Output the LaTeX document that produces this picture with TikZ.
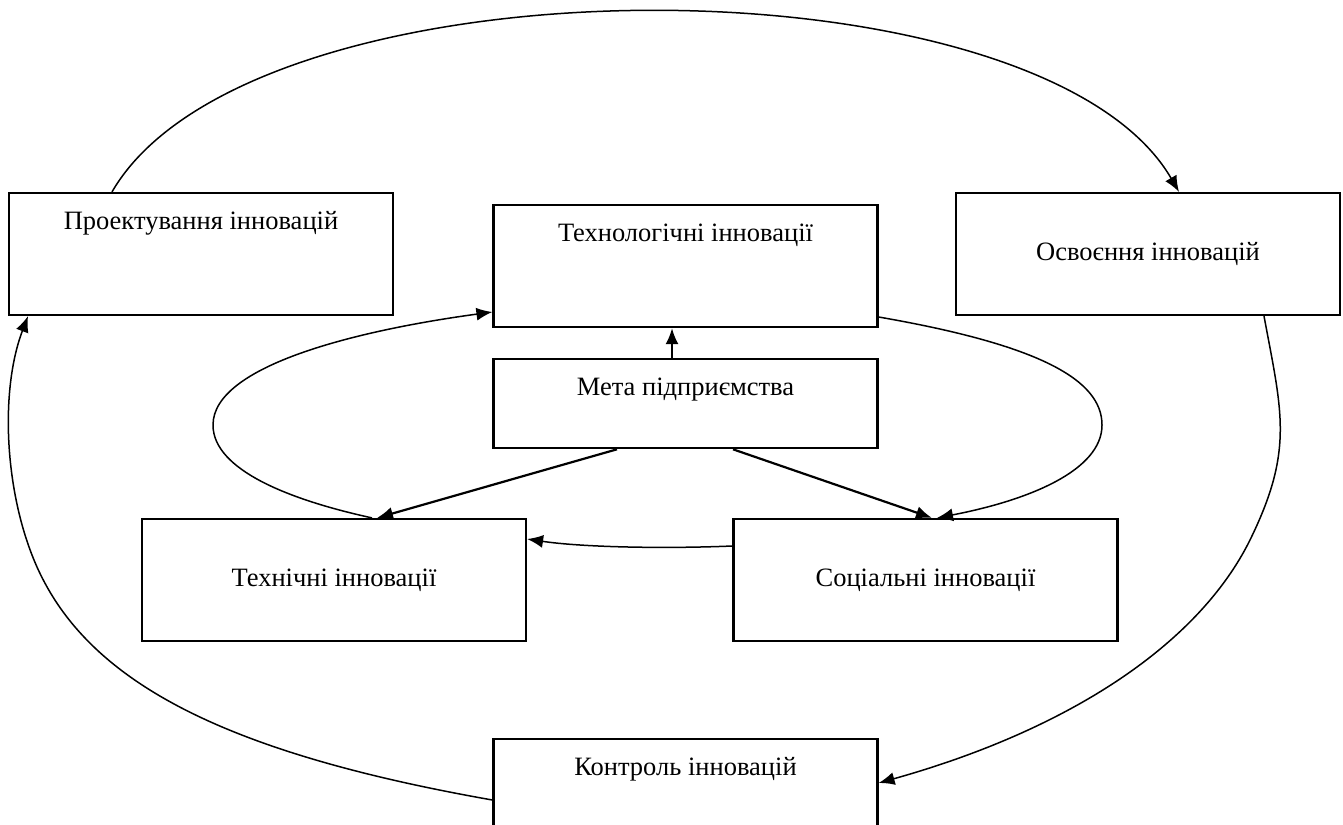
\documentclass[tikz,border=0pt]{standalone}
\usepackage{fontspec}
\setmainfont{Liberation Serif}
\usetikzlibrary{positioning,arrows.meta}

\begin{document}
\begin{tikzpicture}[x=0.5pt, y=-0.5pt,
	font=\fontsize{13.25}{16}\selectfont,
	blok/.style={draw, line width=1.1pt, inner sep=0pt, minimum width=192pt},
	verh/.style={text height=18pt, text depth=43pt},
	midden/.style={text height=33.5pt, text depth=27.5pt},
	pijl/.style={-{Latex[length=8pt,width=6.5pt]}, line width=0.75pt},
	dikpijl/.style={-{Latex[length=8pt,width=6.5pt]}, line width=1.1pt}]
	\useasboundingbox (0,0) rectangle (1343,824);
	\node [blok, verh] (proekt) at (201,254) {Проектування інновацій};
	\node [blok, verh] (tekhnol) at (685.5,266) {Технологічні інновації};
	\node [blok, midden] (osvo) at (1148,254) {Освоєння інновацій};
	\node [blok, verh, text depth=26.5pt, below=15pt of tekhnol] (meta) {Мета підприємства};
	\node [blok, midden] (tekhn) at (334,580) {Технічні інновації};
	\node [blok, midden] (social) at (925.5,580) {Соціальні інновації};
	\node [blok, verh] (kontrol) at (685.5,800) {Контроль інновацій};
	% buitenste kring
	\draw [pijl] ([xshift=-44.5pt]proekt.north) .. controls (251,-48) and (1040,-48) .. ([xshift=15.5pt]osvo.north);
	\draw [pijl] ([xshift=58pt]osvo.south) .. controls (1282,413) and (1294,450) .. (1250,540)
		.. controls (1198,645) and (1068,730) .. ([yshift=8.5pt]kontrol.east);
	\draw [pijl] (kontrol.west) .. controls (226,753) and (89,683) .. (37,567)
		.. controls (4.5,494) and (-0.5,391) .. ([xshift=-86.5pt]proekt.south);
	% binnenste kring
	\draw [pijl] ([yshift=-25.5pt]tekhnol.east) .. controls (1040,345) and (1102,380) .. (1102,425)
		.. controls (1102,470) and (1030,500) .. ([xshift=5.75pt]social.north);
	\draw [pijl] ([yshift=17pt]social.west) .. controls (660,549) and (580,547) .. ([yshift=20.5pt]tekhn.east);
	\draw [pijl] ([xshift=19pt]tekhn.north) .. controls (290,500) and (213,470) .. (213,425)
		.. controls (213,365) and (360,330) .. ([yshift=-23pt]tekhnol.west);
	% vanuit de meta
	\draw [dikpijl] ([xshift=-6.75pt]meta.north) -- ([xshift=-6.75pt]tekhnol.south);
	\draw [dikpijl] ([xshift=-34.25pt]meta.south) -- ([xshift=21.5pt]tekhn.north);
	\draw [dikpijl] ([xshift=23.75pt]meta.south) -- ([xshift=3.25pt]social.north);
\end{tikzpicture}
\end{document}
